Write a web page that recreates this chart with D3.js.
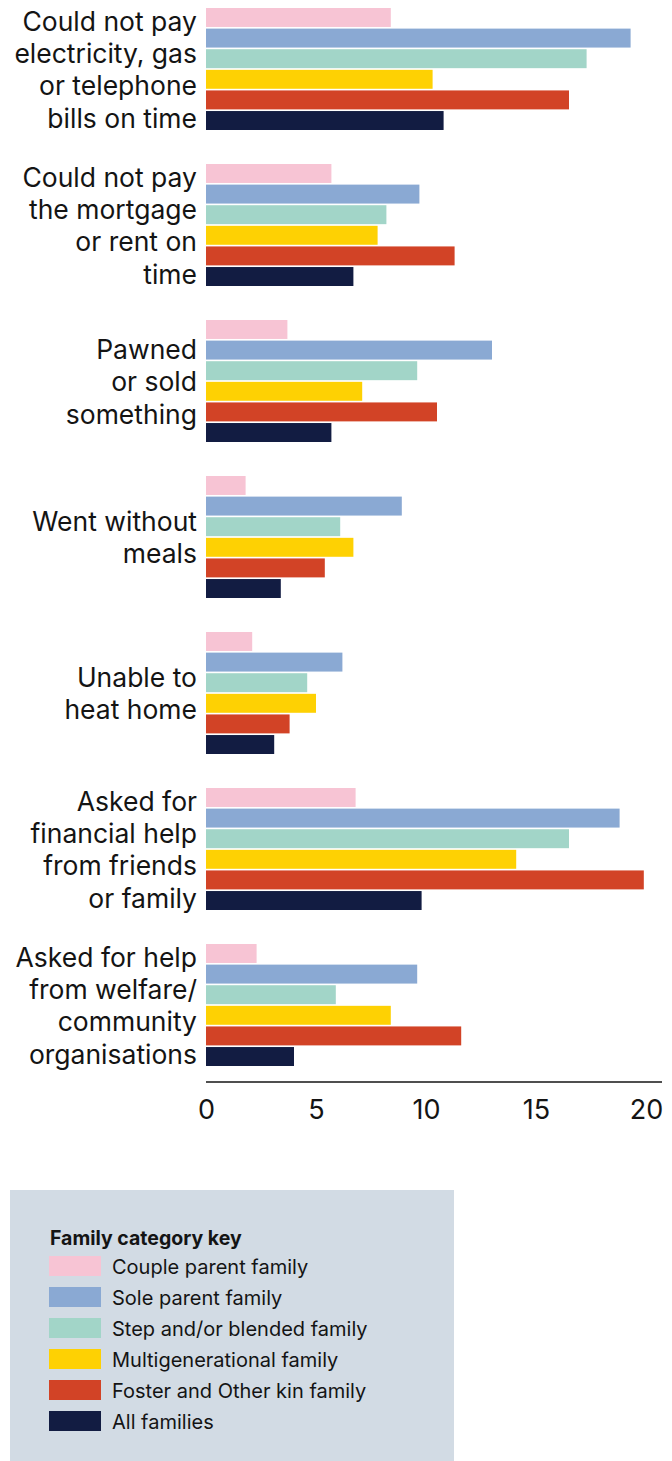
<!DOCTYPE html>
<html>
<head>
<meta charset="utf-8">
<script src="https://cdn.jsdelivr.net/npm/d3@7"></script>
<style>
  html, body { margin: 0; padding: 0; background: #ffffff; }
  svg { display: block; }
  text { font-family: Inter, "Open Sans", sans-serif; fill: #141414; }
</style>
</head>
<body>
<svg id="chart" width="672" height="1461"></svg>
<script>
// Hardship indicators (label lines) and percentage of families by family type
const categories = [
  ["Could not pay", "electricity, gas", "or telephone", "bills on time"],
  ["Could not pay", "the mortgage", "or rent on", "time"],
  ["Pawned", "or sold", "something"],
  ["Went without", "meals"],
  ["Unable to", "heat home"],
  ["Asked for", "financial help", "from friends", "or family"],
  ["Asked for help", "from welfare/", "community", "organisations"]
];

const seriesNames = [
  "Couple parent family",
  "Sole parent family",
  "Step and/or blended family",
  "Multigenerational family",
  "Foster and Other kin family",
  "All families"
];

const couple          = [8.4, 5.7, 3.7, 1.8, 2.1, 6.8, 2.3];
const sole            = [19.3, 9.7, 13.0, 8.9, 6.2, 18.8, 9.6];
const stepBlended     = [17.3, 8.2, 9.6, 6.1, 4.6, 16.5, 5.9];
const multigeneration = [10.3, 7.8, 7.1, 6.7, 5.0, 14.1, 8.4];
const fosterKin       = [16.5, 11.3, 10.5, 5.4, 3.8, 19.9, 11.6];
const allFamilies     = [10.8, 6.7, 5.7, 3.4, 3.1, 9.8, 4.0];

const seriesValues = [couple, sole, stepBlended, multigeneration, fosterKin, allFamilies];
const seriesColors = ["#f7c4d4", "#8aa9d3", "#a2d5c8", "#fed103", "#d24326", "#121c42"];

const xTicks = [0, 5, 10, 15, 20];
const legendTitle = "Family category key";

const svg = d3.select("#chart");

const x = d3.scaleLinear().domain([0, 20]).range([206, 646]);

const groupIds = d3.range(categories.length);
const y = d3.scaleBand()
  .domain(groupIds)
  .range([8, 1066])
  .paddingInner(0.218)
  .paddingOuter(0);

const ySub = d3.scaleBand()
  .domain(d3.range(seriesNames.length))
  .range([0, y.bandwidth()])
  .paddingInner(0.08);

const groups = svg.append("g").selectAll("g.group")
  .data(groupIds)
  .join("g")
  .attr("class", "group")
  .attr("transform", i => `translate(0,${y(i)})`);

groups.selectAll("rect")
  .data(i => seriesValues.map((vals, s) => ({ s, v: vals[i] })))
  .join("rect")
  .attr("x", x(0))
  .attr("y", d => ySub(d.s))
  .attr("width", d => x(d.v) - x(0))
  .attr("height", ySub.bandwidth())
  .attr("fill", d => seriesColors[d.s]);

// Category labels, right-aligned and vertically centred on each group
const lineH = 32.3;
groups.append("text")
  .attr("text-anchor", "end")
  .attr("font-size", 26.5)
  .each(function (i) {
    const lines = categories[i];
    const mid = y.bandwidth() / 2 + 1;
    const top = mid - (lines.length - 1) * lineH / 2;
    d3.select(this).selectAll("tspan")
      .data(lines)
      .join("tspan")
      .attr("x", 197)
      .attr("y", (d, k) => top + k * lineH)
      .attr("dy", "0.35em")
      .text(d => d);
  });

// Bottom axis
const axis = d3.axisBottom(x).tickValues(xTicks).tickSize(0).tickPadding(18).tickFormat(d3.format("d"));
const axisG = svg.append("g")
  .attr("transform", "translate(0,1082)")
  .call(axis);
axisG.select(".domain").remove();
axisG.append("line")
  .attr("x1", 206).attr("x2", 662)
  .attr("y1", 0).attr("y2", 0)
  .attr("stroke", "#141414").attr("stroke-width", 1.5);
axisG.selectAll(".tick text")
  .attr("font-size", 27)
  .attr("font-family", "Inter, sans-serif")
  .attr("fill", "#141414");

// Legend
const legend = svg.append("g");
legend.append("rect")
  .attr("x", 10).attr("y", 1190)
  .attr("width", 444).attr("height", 271)
  .attr("fill", "#d2dbe4");
legend.append("text")
  .attr("x", 50).attr("y", 1245)
  .attr("font-size", 19.5)
  .attr("font-weight", "bold")
  .text(legendTitle);

const items = legend.selectAll("g.item")
  .data(seriesNames)
  .join("g")
  .attr("class", "item")
  .attr("transform", (d, i) => `translate(0,${1256 + i * 31})`);
items.append("rect")
  .attr("x", 49).attr("y", 0)
  .attr("width", 52).attr("height", 20)
  .attr("fill", (d, i) => seriesColors[i]);
items.append("text")
  .attr("x", 112).attr("y", 11)
  .attr("dy", "0.35em")
  .attr("font-size", 20)
  .text(d => d);
</script>
</body>
</html>
